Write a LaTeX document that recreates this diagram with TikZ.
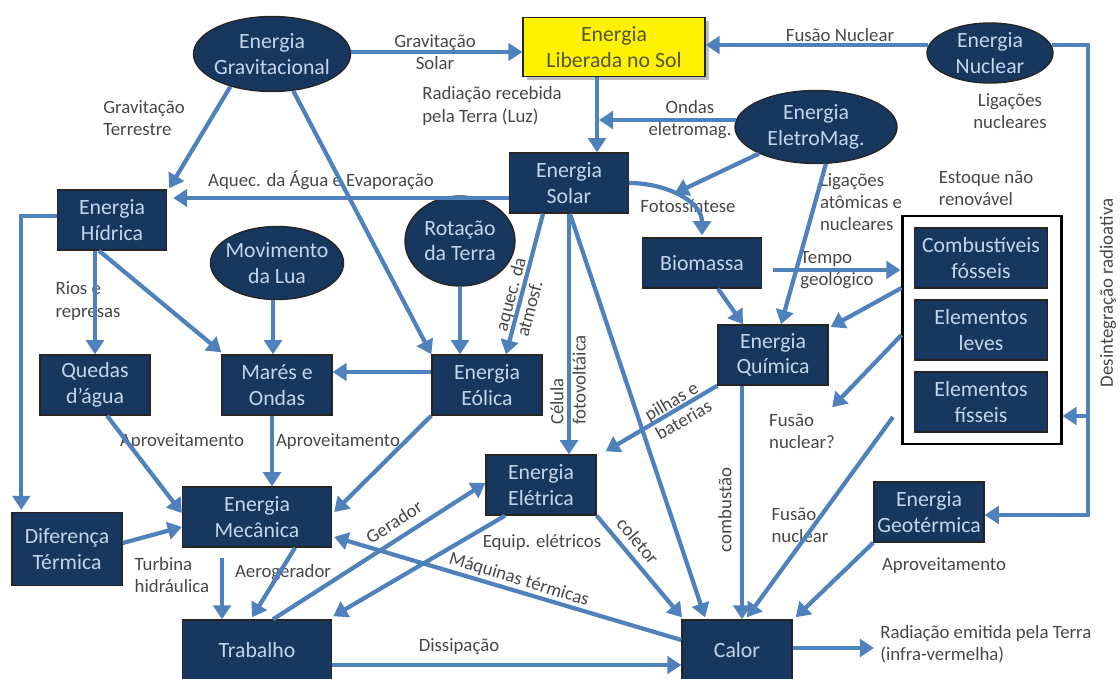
\documentclass[tikz,border=0pt]{standalone}
\usepackage{fontspec}
\setmainfont{Carlito}
\usetikzlibrary{arrows.meta,calc,shapes.geometric,shadows}
\definecolor{azulcaixa}{HTML}{17375E}
\definecolor{azulseta}{HTML}{4F81BD}
\definecolor{textocaixa}{HTML}{C3D5EC}
\definecolor{textorotulo}{HTML}{474747}
\definecolor{textosol}{HTML}{55553A}

\begin{document}
\begin{tikzpicture}[x=0.02cm,y=-0.02cm,
	caixa/.style={draw=black!85,line width=.8pt,fill=azulcaixa,text=textocaixa,align=center,
		inner sep=0pt,minimum width=2.2cm,minimum height=1.2cm,font=\fontsize{12.4}{14.5}\selectfont},
	elipse/.style={caixa,ellipse,inner xsep=-2.5pt,inner ysep=-3pt},
	rotulo/.style={text=textorotulo,align=center,inner sep=0pt,font=\fontsize{10.7}{12.6}\selectfont},
	seta/.style={draw=azulseta,line width=2.4pt,-{Triangle[width=10pt,length=8pt]}}]
\useasboundingbox (0,0) rectangle (1120,679);

\node[elipse,minimum width=3.14cm,minimum height=1.5cm] (grav) at (272,54) {Energia\\Gravitacional};
\node[caixa,fill=yellow,text=textosol,minimum width=3.64cm,minimum height=1.18cm,
	drop shadow={shadow xshift=2pt,shadow yshift=-2pt,opacity=.5}] (sol) at (614,47) {Energia\\Liberada no Sol};
\node[elipse,minimum width=2.52cm,minimum height=1.2cm] (nuclear) at (990,53) {Energia\\Nuclear};
\node[elipse,minimum width=3.24cm,minimum height=1.46cm] (emag) at (816,127) {Energia\\EletroMag.};
\node[caixa,minimum width=2.38cm] (solar) at (569,183) {Energia\\Solar};
\node[caixa,minimum width=2.18cm] (hidrica) at (112,220) {Energia\\Hídrica};
\node[elipse,minimum width=2.58cm,minimum height=1.46cm] (lua) at (277,263) {Movimento\\da Lua};
\node[elipse,minimum width=2.2cm,minimum height=1.8cm] (rotacao) at (460,241) {Rotação\\da Terra};
\node[caixa,minimum width=2.38cm,minimum height=1cm] (biomassa) at (702,263) {Biomassa};
\node[draw=black,line width=1.2pt,fill=white,minimum width=3.18cm,minimum height=4.56cm] (estoque) at (982,330) {};
\node[caixa,minimum width=2.66cm] (comb) at (981,258) {Combustíveis\\fósseis};
\node[caixa,minimum width=2.66cm] (leves) at (981,330) {Elementos\\leves};
\node[caixa,minimum width=2.66cm] (fisseis) at (981,402) {Elementos\\físseis};
\node[caixa] (quimica) at (773,355) {Energia\\Química};
\node[caixa] (quedas) at (95,385) {Quedas\\d’água};
\node[caixa] (mares) at (277,385) {Marés e\\Ondas};
\node[caixa] (eolica) at (487,385) {Energia\\Eólica};
\node[caixa] (eletrica) at (541,485) {Energia\\Elétrica};
\node[caixa,minimum width=2.98cm] (mecanica) at (257,517) {Energia\\Mecânica};
\node[caixa,minimum height=1.46cm] (diferenca) at (67,549) {Diferença\\Térmica};
\node[caixa,minimum width=2.98cm] (trabalho) at (257,650) {Trabalho};
\node[caixa] (calor) at (737,650) {Calor};
\node[caixa] (geo) at (929,512) {Energia\\Geotérmica};

\node[rotulo] at (435,52) {Gravitação\\Solar};
\node[rotulo] at (840,35) {Fusão Nuclear};
\node[rotulo,align=left] at (492,106) {Radiação recebida\\pela Terra (Luz)};
\node[rotulo] at (690,120) {Ondas\\eletromag.};
\node[rotulo] at (1010,111) {Ligações\\nucleares};
\node[rotulo,rotate=90] at (1108,293) {Desintegração radioativa};
\node[rotulo,align=left] at (986,188) {Estoque não\\renovável};
\node[rotulo] at (321,180) {Aquec. da Água e Evaporação};
\node[rotulo,align=left] at (144,118) {Gravitação\\Terrestre};
\node[rotulo] at (688,206) {Fotossíntese};
\node[rotulo,rotate=75,align=left] at (521,297) {aquec. da\\atmosf.};
\node[rotulo,rotate=90,align=left] at (568,380) {Célula\\fotovoltáica};
\node[rotulo,align=left] at (837,270) {Tempo\\geológico};
\node[rotulo,align=left] at (861,202) {Ligações\\atômicas e\\nucleares};
\node[rotulo,align=left] (fusaoq) at (802,431) {Fusão\\nuclear?};
\node[rotulo,align=left] at (800,525) {Fusão\\nuclear};
\node[rotulo,rotate=90] at (725,510) {combustão};
\node[rotulo,rotate=30,align=left] at (678,410) {pilhas e\\baterias};
\node[rotulo,rotate=-50] at (638,541) {coletor};
\node[rotulo] at (542,542) {Equip. elétricos};
\node[rotulo,rotate=-17] at (519,580) {Máquinas térmicas};
\node[rotulo] at (459,647) {Dissipação};
\node[rotulo,align=left,anchor=west] (radiacao) at (880,644) {Radiação emitida pela Terra\\(infra-vermelha)};
\node[rotulo] at (182,442) {Aproveitamento};
\node[rotulo] at (338,442) {Aproveitamento};
\node[rotulo] at (944,566) {Aproveitamento};
\node[rotulo,align=left] at (88,301) {Rios e\\represas};
\node[rotulo,align=left] at (172,575) {Turbina\\hidráulica};
\node[rotulo] at (283,573) {Aerogerador};
\node[rotulo,rotate=33] at (394,522) {Gerador};

\coordinate (canto) at (1088,45);
\coordinate (ondas) at (599,120);
\coordinate (fusaoini) at (893,417);

\draw[seta] ($(grav.east)+(0,-2)$) -- ($(sol.west)+(0,5)$);
\draw[seta] ($(nuclear.west)+(2,-8)$) -- ($(sol.east)+(0,-2)$);
\draw[seta] ($(nuclear.east)+(-2,-8)$) -- (canto) |- ($(geo.east)+(0,3)$);
\draw[seta] ($(estoque.east)+(27,86)$) -- ($(estoque.east)+(0,86)$);
\draw[seta] ($(sol.south)+(-17,0)$) -- ($(solar.north)+(28,0)$);
\draw[seta] ($(emag.west)+(2,-7)$) -- (ondas);
\draw[seta] (solar.east) to[out=0,in=90] coordinate[pos=.45] (foto) ($(biomassa.north)+(0,-2)$);
\draw[seta] (emag.205) -- (foto);
\draw[seta] ($(solar.west)+(0,15)$) -- ($(hidrica.east)+(6,-22)$);
\draw[seta] (grav.218) -- ($(hidrica.north east)+(2,-1)$);
\draw[seta] (grav.300) -- (eolica.north west);
\draw[seta] (rotacao.south) -- (rotacao.south |- eolica.north);
\draw[seta] ($(solar.south)+(-26,0)$) -- ($(eolica.north)+(19,0)$);
\draw[seta] (solar.south) -- (solar.south |- eletrica.north);
\draw[seta] ($(solar.south)+(1,0)$) -- ($(calor.north)+(-32,-2)$);
\draw[seta] ($(biomassa.south)+(16,0)$) -- ($(quimica.north)+(-30,0)$);
\draw[seta] ($(biomassa.east)+(11,7)$) -- ($(estoque.west)+(-1,-60)$);
\draw[seta] (emag.285) -- ($(quimica.north)+(8,0)$);
\draw[seta] ($(estoque.west)+(0,-42)$) -- ($(quimica.east)+(2,-28)$);
\draw[seta] ($(estoque.west)+(0,5)$) -- ($(fusaoq.north east)+(-3,-6)$);
\draw[seta] (fusaoini) -- ($(calor.north)+(10,-2)$);
\draw[seta] ($(quimica.south)+(-31,0)$) -- ($(calor.north)+(5,0)$);
\draw[seta] (quimica.south west) -- ($(eletrica.north east)+(9,-3)$);
\draw[seta] (eletrica.south east) -- ($(calor.north)+(-55,-2)$);
\draw[seta] ($(eletrica.south)+(-36,0)$) -- ($(trabalho.north east)+(1,-3)$);
\draw[seta] ($(calor.west)+(0,-10)$) -- ($(mecanica.east)+(2,20)$);
\draw[seta] ($(trabalho.east)+(0,15)$) -- ($(calor.west)+(0,15)$);
\draw[seta] ($(calor.east)+(0,-2)$) -- ($(radiacao.west)+(-6,4)$);
\draw[seta] (geo.south west) -- ($(calor.north east)+(3,-2)$);
\draw[seta] ($(hidrica.south)+(-17,0)$) -- (quedas.north);
\draw[seta] ($(hidrica.south)+(-13,0)$) -- ($(mares.north west)+(0,-2)$);
\draw[seta] ($(hidrica.west)+(0,-4)$) -| ($(diferenca.north west)+(10,-2)$);
\draw[seta] ($(lua.south)+(-4,0)$) -- ($(mares.north)+(-4,0)$);
\draw[seta] ($(eolica.west)+(0,-13)$) -- ($(mares.east)+(0,-13)$);
\draw[seta] ($(quedas.south)+(12,0)$) -- ($(mecanica.west)+(0,-4)$);
\draw[seta] ($(mares.south)+(-5,0)$) -- ($(mecanica.north)+(15,0)$);
\draw[seta] (eolica.south west) -- ($(mecanica.east)+(2,-5)$);
\draw[seta] ($(diferenca.east)+(0,-6)$) -- ($(mecanica.west)+(0,10)$);
\draw[seta] ($(mecanica.south)+(-35,10)$) -- ($(trabalho.north)+(-35,0)$);
\draw[seta] ($(mecanica.south)+(38,0)$) -- ($(trabalho.north)+(-5,-2)$);
\draw[seta] ($(trabalho.north)+(16,0)$) -- ($(eletrica.west)+(0,-2)$);
\end{tikzpicture}
\end{document}
